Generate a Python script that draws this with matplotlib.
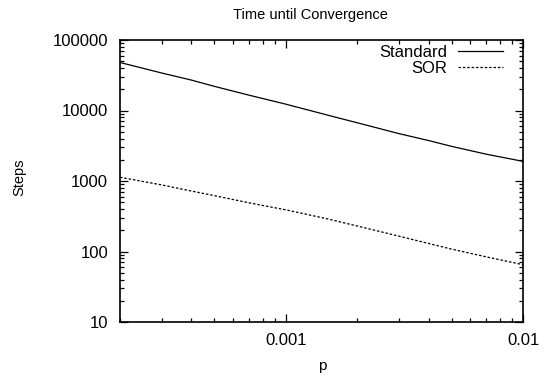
import matplotlib
matplotlib.use("Agg")
import matplotlib.pyplot as plt
from matplotlib.ticker import LogLocator, FixedLocator, FixedFormatter, NullFormatter

plt.rcParams['font.family'] = ['Liberation Sans', 'DejaVu Sans']

p = [0.0002, 0.0003, 0.0004, 0.0005, 0.0007, 0.001, 0.0015, 0.002, 0.003, 0.004, 0.005, 0.007, 0.01]
standard = [48000, 34000, 27000, 22000, 16500, 12300, 8600, 6700, 4700, 3750, 3100, 2400, 1900]
sor = [1130, 880, 720, 620, 490, 390, 290, 230, 165, 130, 108, 84, 65]

xticks = [0.001, 0.01]
xticklabels = ['0.001', '0.01']
yticks = [10, 100, 1000, 10000, 100000]
yticklabels = ['10', '100', '1000', '10000', '100000']

W, H = 547, 378
fig = plt.figure(figsize=(W / 100, H / 100), dpi=100)
ax = fig.add_axes([120 / W, 1 - 322 / H, 403 / W, 282 / H])

ax.plot(p, standard, color='black', lw=0.9, label='Standard')
ax.plot(p, sor, color='black', lw=0.9, linestyle=(0, (2, 1.5)), label='SOR')

ax.set_xscale('log')
ax.set_yscale('log')
ax.set_xlim(0.0002, 0.01)
ax.set_ylim(10, 100000)

ax.xaxis.set_major_locator(FixedLocator(xticks))
ax.xaxis.set_major_formatter(FixedFormatter(xticklabels))
ax.xaxis.set_minor_locator(LogLocator(base=10, subs=range(2, 10)))
ax.xaxis.set_minor_formatter(NullFormatter())
ax.yaxis.set_major_locator(FixedLocator(yticks))
ax.yaxis.set_major_formatter(FixedFormatter(yticklabels))
ax.yaxis.set_minor_locator(LogLocator(base=10, subs=range(2, 10)))
ax.yaxis.set_minor_formatter(NullFormatter())

ax.tick_params(which='both', direction='in', top=True, right=True, labelsize=12, width=0.9)
ax.tick_params(which='major', length=6)
ax.tick_params(which='minor', length=3)
ax.tick_params(axis='x', which='major', pad=8)
ax.tick_params(axis='y', which='major', pad=8.5)
for s in ax.spines.values():
    s.set_linewidth(1.2)

fig.text(310 / W, 1 - 15 / H, 'Time until Convergence', fontsize=10.5, ha='center', va='center')
fig.text(322 / W, 1 - 366 / H, 'p', fontsize=11, ha='center', va='center')
fig.text(19 / W, 1 - 177 / H, 'Steps', fontsize=10.5, ha='center', va='center', rotation=90)

leg = ax.legend(loc='upper right', bbox_to_anchor=(0.95, 0.984), frameon=False, fontsize=12,
                markerfirst=False, handlelength=2.7, handletextpad=0.66, labelspacing=0.08,
                borderaxespad=0, borderpad=0)
for t in leg.get_texts():
    t.set_ha('right')

fig.savefig('out.png', dpi=100)
